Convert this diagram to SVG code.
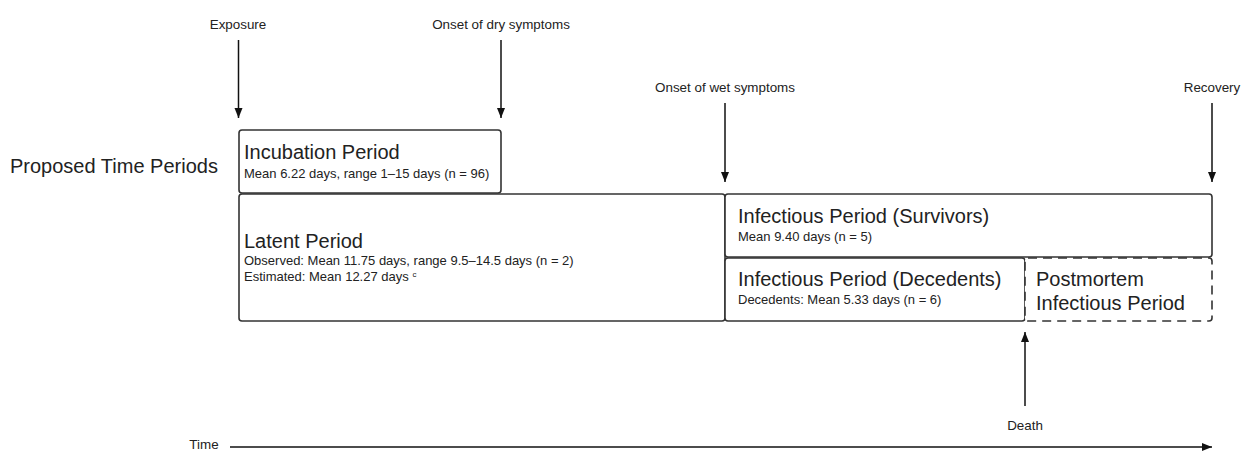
<svg xmlns="http://www.w3.org/2000/svg" width="1242" height="452" viewBox="0 0 1242 452">
<defs>
<marker id="ah" viewBox="0 0 10 10" refX="10" refY="5" markerWidth="10" markerHeight="10" markerUnits="userSpaceOnUse" orient="auto"><path d="M0,1 L10,5 L0,9 Z" fill="#111"/></marker>
<style>
text{font-family:"Liberation Sans",Arial,sans-serif;fill:#222}
.lbl{font-size:13.4px}
.big{font-size:20px}
.sm{font-size:13px}
.box{fill:#fff;stroke:#333;stroke-width:1.6}
.dash{stroke-dasharray:9 6}
.arr{stroke:#111;stroke-width:1.5;fill:none;marker-end:url(#ah)}
</style>
</defs>
<rect width="1242" height="452" fill="#fff"/>
<text class="big" x="10" y="173">Proposed Time Periods</text>
<g id="connectors">
<line class="arr" x1="238.5" y1="40" x2="238.5" y2="118"/>
<line class="arr" x1="501" y1="40" x2="501" y2="118"/>
<line class="arr" x1="725" y1="103" x2="725" y2="182"/>
<line class="arr" x1="1212" y1="103" x2="1212" y2="182"/>
<line class="arr" x1="1025" y1="406" x2="1025" y2="332"/>
<line class="arr" x1="230" y1="447" x2="1212" y2="447"/>
</g>
<g id="labels">
<text class="lbl" x="238" y="29" text-anchor="middle">Exposure</text>
<text class="lbl" x="501" y="29" text-anchor="middle">Onset of dry symptoms</text>
<text class="lbl" x="725" y="92" text-anchor="middle">Onset of wet symptoms</text>
<text class="lbl" x="1212" y="92" text-anchor="middle">Recovery</text>
<text class="lbl" x="1025" y="430" text-anchor="middle">Death</text>
<text class="lbl" x="204" y="449" text-anchor="middle" font-size="12">Time</text>
</g>
<g id="incubation">
<rect class="box" x="239" y="130" width="262" height="63" rx="3"/>
<text class="big" x="244" y="159">Incubation Period</text>
<text class="sm" x="244" y="178">Mean 6.22 days, range 1–15 days (n = 96)</text>
</g>
<g id="latent">
<rect class="box" x="239" y="194" width="486" height="127" rx="3"/>
<text class="big" x="244" y="248">Latent Period</text>
<text class="sm" x="244" y="265">Observed: Mean 11.75 days, range 9.5–14.5 days (n = 2)</text>
<text class="sm" x="244" y="281">Estimated: Mean 12.27 days <tspan font-size="8" dy="-4">c</tspan></text>
</g>
<g id="survivors">
<rect class="box" x="725" y="194" width="487" height="63" rx="3"/>
<text class="big" x="738" y="223">Infectious Period (Survivors)</text>
<text class="sm" x="738" y="241">Mean 9.40 days (n = 5)</text>
</g>
<g id="decedents">
<rect class="box" x="725" y="258" width="300" height="63" rx="3"/>
<text class="big" x="738" y="286">Infectious Period (Decedents)</text>
<text class="sm" x="738" y="304">Decedents: Mean 5.33 days (n = 6)</text>
</g>
<g id="postmortem">
<rect class="box dash" x="1025" y="258" width="187" height="63" rx="3"/>
<text class="big" x="1036" y="286">Postmortem</text>
<text class="big" x="1036" y="310">Infectious Period</text>
</g>
</svg>
